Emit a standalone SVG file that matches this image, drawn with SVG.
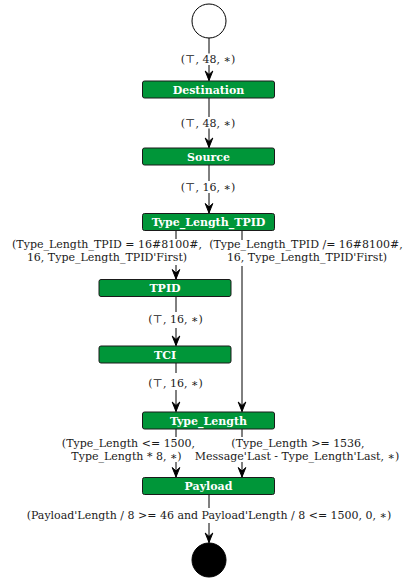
<svg xmlns="http://www.w3.org/2000/svg" width="404" height="578" viewBox="0 0 404 578">
<style>
.bg{fill:#ffffff}
.node rect{fill:#009639;stroke:#1a1a1a;stroke-width:1}
.node text{font-family:"DejaVu Serif","Liberation Serif",serif;font-weight:bold;font-size:11px;fill:#ffffff;text-anchor:middle}
.edge path{stroke:#000;stroke-width:1;fill:none;marker-end:url(#arrow)}
.lbl{font-family:"DejaVu Serif","Liberation Serif",serif;font-size:11px;fill:#1a1a1a;text-anchor:middle}
</style>
<defs>
<marker id="arrow" viewBox="-11 -6 12 12" refX="0" refY="0" markerWidth="12" markerHeight="12" markerUnits="userSpaceOnUse" orient="auto">
<path d="M-0.5,0 L-10,-3.8 L-6.5,0 L-10,3.8 Z" fill="#000" stroke="#000" stroke-width="1" stroke-linejoin="miter"/>
</marker>
</defs>
<rect class="bg" x="0" y="0" width="404" height="578"/>
<g id="connectors" class="edge">
<path d="M209,38 V53.5 M209,65 V81"/>
<path d="M209,98 V117 M209,128.5 V148"/>
<path d="M209,165 V181 M209,193 V213.5"/>
<path d="M176,230.5 V239 M176,265 V279.5"/>
<path d="M242,230.5 V240 M242,266 V412"/>
<path d="M176,296.5 V312 M176,328 V346"/>
<path d="M176,363 V373 M176,390 V412"/>
<path d="M176,429 V437 M176,462 V477.5"/>
<path d="M242,429 V437 M242,462 V477.5"/>
<path d="M209,494.5 V508 M209,523 V543"/>
</g>
<g id="edge-labels">
<text class="lbl" x="208" y="63">(⊤, 48, ∗)</text>
<text class="lbl" x="208" y="127">(⊤, 48, ∗)</text>
<text class="lbl" x="208" y="191">(⊤, 16, ∗)</text>
<text class="lbl" x="107" y="248">(Type_Length_TPID = 16#8100#,</text>
<text class="lbl" x="107" y="261">16, Type_Length_TPID'First)</text>
<text class="lbl" x="306" y="248">(Type_Length_TPID /= 16#8100#,</text>
<text class="lbl" x="307" y="261">16, Type_Length_TPID'First)</text>
<text class="lbl" x="175.5" y="323">(⊤, 16, ∗)</text>
<text class="lbl" x="175.5" y="387">(⊤, 16, ∗)</text>
<text class="lbl" x="128.5" y="446.5">(Type_Length &lt;= 1500,</text>
<text class="lbl" x="126.5" y="459.5">Type_Length * 8, ∗)</text>
<text class="lbl" x="298" y="446.5">(Type_Length &gt;= 1536,</text>
<text class="lbl" x="297" y="459.5">Message'Last - Type_Length'Last, ∗)</text>
<text class="lbl" x="209" y="519">(Payload'Length / 8 &gt;= 46 and Payload'Length / 8 &lt;= 1500, 0, ∗)</text>
</g>
<g id="start"><circle cx="209" cy="21" r="17" fill="#fff" stroke="#000" stroke-width="1"/></g>
<g id="Destination" class="node"><rect x="142.5" y="81" width="132" height="17" rx="2"/><text x="208.5" y="93.5">Destination</text></g>
<g id="Source" class="node"><rect x="142.5" y="148" width="132" height="17" rx="2"/><text x="208.5" y="160.5">Source</text></g>
<g id="Type_Length_TPID" class="node"><rect x="142.5" y="213.5" width="132" height="17" rx="2"/><text x="208.5" y="226">Type_Length_TPID</text></g>
<g id="TPID" class="node"><rect x="99" y="279.5" width="132" height="17" rx="2"/><text x="165" y="292">TPID</text></g>
<g id="TCI" class="node"><rect x="99" y="346" width="132" height="17" rx="2"/><text x="165" y="358.5">TCI</text></g>
<g id="Type_Length" class="node"><rect x="142.5" y="412" width="132" height="17" rx="2"/><text x="208.5" y="424.5">Type_Length</text></g>
<g id="Payload" class="node"><rect x="142.5" y="477.5" width="132" height="17" rx="2"/><text x="208.5" y="490">Payload</text></g>
<g id="end"><circle cx="209" cy="560" r="17" fill="#000" stroke="#000" stroke-width="1"/></g>
</svg>
